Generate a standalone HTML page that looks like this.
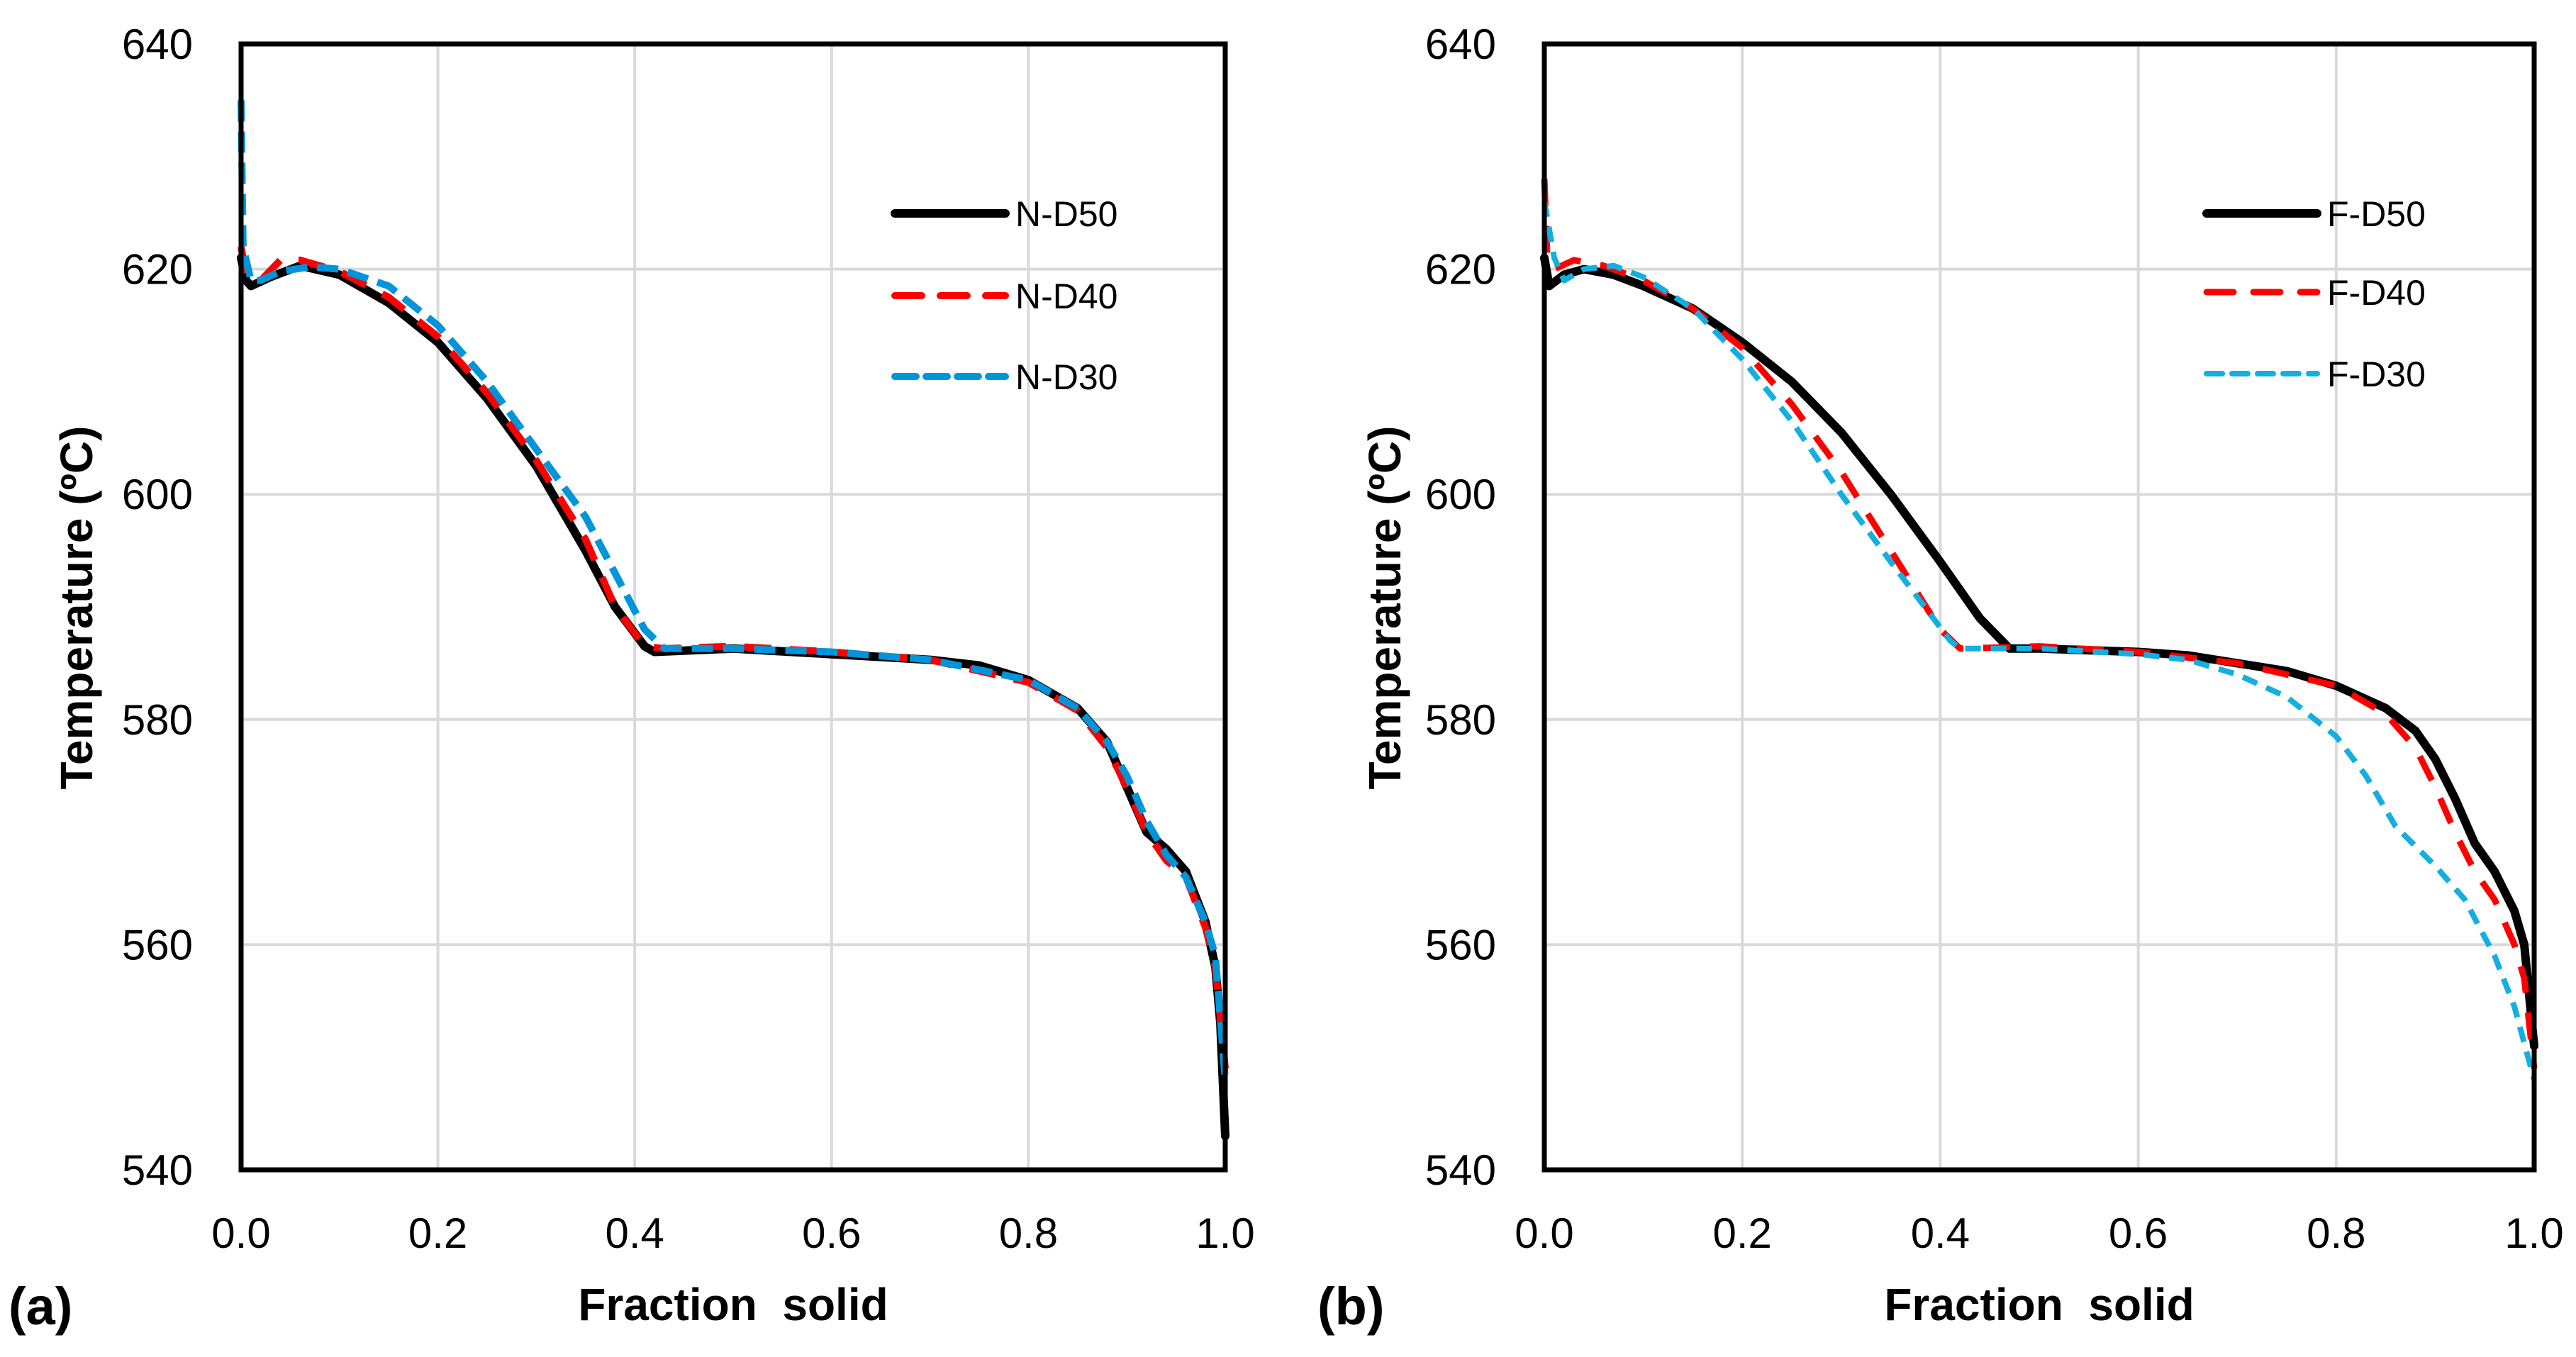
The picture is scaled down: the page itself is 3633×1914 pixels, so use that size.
<!DOCTYPE html>
<html><head><meta charset="utf-8">
<style>
html,body{margin:0;padding:0;background:#fff;}
svg{display:block;}
text{font-family:"Liberation Sans",Arial,sans-serif;}
</style></head>
<body>
<svg id="fig" width="3633" height="1914" viewBox="0 0 3633 1914" xmlns="http://www.w3.org/2000/svg"></svg>
<script>
const xTicks = [0, 0.2, 0.4, 0.6, 0.8, 1.0];
const xTickLabels = ["0.0","0.2","0.4","0.6","0.8","1.0"];
const yTicks = [540, 560, 580, 600, 620, 640];
const yTickLabels = ["540","560","580","600","620","640"];

const nD50x = [0,0.005,0.01,0.03,0.06,0.1,0.15,0.2,0.25,0.3,0.35,0.38,0.41,0.42,0.5,0.6,0.7,0.75,0.8,0.85,0.88,0.9,0.92,0.94,0.96,0.98,0.99,0.995,1.0];
const nD50y = [621,619,618.5,619.3,620.3,619.5,617,613.5,608.5,602.5,595,590,586.5,586,586.3,585.8,585.3,584.8,583.5,581,578,574,570,568.5,566.5,562,558,553,543];
const nD40x = [0,0.005,0.02,0.04,0.06,0.1,0.15,0.2,0.25,0.3,0.35,0.38,0.41,0.43,0.5,0.6,0.7,0.8,0.85,0.88,0.9,0.92,0.94,0.96,0.98,0.99,1.0];
const nD40y = [622,619.5,619,620.8,620.8,619.8,617.5,614,609,603,596,590,586.5,586.3,586.5,586,585.3,583.3,580.8,577.5,574,570,567.5,566,561.5,558,549];
const nD30x = [0,0.002,0.01,0.02,0.04,0.07,0.1,0.15,0.2,0.25,0.3,0.35,0.38,0.41,0.43,0.5,0.6,0.7,0.8,0.85,0.88,0.9,0.92,0.94,0.96,0.98,0.99,1.0];
const nD30y = [635,622,619,619,619.8,620.2,620,618.5,615,610,604,598,593,588,586.3,586.3,586,585.3,583.5,581,578,575,571,568,566,562,559,548];

const fD50x = [0,0.005,0.02,0.04,0.07,0.1,0.15,0.2,0.25,0.3,0.35,0.4,0.44,0.47,0.5,0.6,0.65,0.7,0.75,0.8,0.85,0.88,0.9,0.92,0.94,0.96,0.98,0.99,1.0];
const fD50y = [621,618.5,619.5,620,619.5,618.5,616.5,613.5,610,605.5,600,594,589,586.3,586.3,586,585.7,585,584.3,583,581,579,576.5,573,569,566.5,563,560,551];
const fD40x = [0,0.003,0.01,0.03,0.06,0.1,0.15,0.2,0.25,0.3,0.35,0.4,0.42,0.5,0.6,0.7,0.8,0.85,0.88,0.9,0.92,0.94,0.96,0.98,0.99,1.0];
const fD40y = [628,621,620,620.8,620.3,619,616.5,613,608,602,595,588,586.3,586.5,586,585,583,580.5,577.5,574,570,566.5,564,560,557,549];
const fD30x = [0,0.01,0.02,0.04,0.07,0.1,0.15,0.2,0.25,0.3,0.35,0.38,0.41,0.42,0.5,0.6,0.65,0.7,0.75,0.8,0.83,0.86,0.9,0.93,0.96,0.98,1.0];
const fD30y = [626,621,619,620,620.3,619.3,616.5,612,606.5,600,594,590.5,587,586.3,586.3,585.8,585.3,584,582,578.5,575,570.5,567,564,559,554.5,548];

const NS = "http://www.w3.org/2000/svg";
const svg = document.getElementById('fig');
function mk(tag, attrs, parent){
  const e = document.createElementNS(NS, tag);
  for (const k in attrs) e.setAttribute(k, attrs[k]);
  (parent||svg).appendChild(e);
  return e;
}

function panel(cfg){
  const g = mk('g', {});
  
  
  const L=cfg.left, R=cfg.right, T=62, B=1650;
  const sx = v => L + (v-0)/(1-0)*(R-L);
  const sy = v => B - (v-540)/(640-540)*(B-T);
  xTicks.forEach((t,i)=>{
    if(i===0||i===xTicks.length-1) return;
    const l = mk('line',{x1:sx(t),x2:sx(t),y1:T,y2:B,stroke:'#d9d9d9','stroke-width':4},g);
    
    
  });
  yTicks.forEach((t,i)=>{
    if(i===0||i===yTicks.length-1) return;
    const l = mk('line',{x1:L,x2:R,y1:sy(t),y2:sy(t),stroke:'#d9d9d9','stroke-width':4},g);
    
    
  });
  xTicks.forEach((t,i)=>{
    const tx = mk('text',{x:sx(t),y:1760,'font-size':60,'text-anchor':'middle',fill:'#000'},g);
    tx.textContent = xTickLabels[i];
    
    
  });
  yTicks.forEach((t,i)=>{
    const tx = mk('text',{x:L-68,y:sy(t)+21,'font-size':60,'text-anchor':'end',fill:'#000'},g);
    tx.textContent = yTickLabels[i];
    
    
  });
  cfg.series.forEach(s=>{
    const pts = s.x.map((v,i)=>sx(v).toFixed(1)+','+sy(s.y[i]).toFixed(1)).join(' ');
    const p = mk('polyline',{points:pts,fill:'none',stroke:s.color,'stroke-width':s.w,'stroke-dasharray':s.dash||'none','stroke-linejoin':'round','stroke-linecap':s.dash?'butt':'round'},g);
    
    
  });
  const fr = mk('rect',{x:L,y:T,width:R-L,height:B-T,fill:'none',stroke:'#000','stroke-width':7},g);
  
  
  cfg.series.forEach((s,i)=>{
    const ly = cfg.legY[i];
    const ll = mk('line',{x1:cfg.legX1,x2:cfg.legX2,y1:ly,y2:ly,stroke:s.color,'stroke-width':s.w,'stroke-dasharray':s.dash||'none','stroke-linecap':'round'},g);
    
    
    const lt = mk('text',{x:cfg.legX2+14,y:ly+18,'font-size':50,fill:'#000'},g);
    lt.textContent = s.label;
    
    
  });
  const xt = mk('text',{x:(L+R)/2,y:1862,'font-size':64,'font-weight':'bold','text-anchor':'middle',fill:'#000'},g);
  xt.textContent = 'Fraction\u00a0\u00a0solid';
  
  
  const yt = mk('text',{x:0,y:0,'font-size':64,'font-weight':'bold','text-anchor':'middle',fill:'#000',transform:'translate('+(cfg.ytX)+',857) rotate(-90)'},g);
  yt.textContent = 'Temperature (\u00baC)';
  
  
  const pl = mk('text',{x:cfg.lblX,y:1868,'font-size':74,'font-weight':'bold',fill:'#000'},g);
  pl.textContent = cfg.lbl;
  
  
}

panel({name:'panel-a',left:340,right:1728,ytX:130,lblX:12,lbl:'(a)',
  legX1:1262,legX2:1418,legY:[301,417,531],
  series:[
    {label:'N-D50',x:nD50x,y:nD50y,color:'#000',w:12},
    {label:'N-D40',x:nD40x,y:nD40y,color:'#ff0000',w:10,dash:'38 26'},
    {label:'N-D30',x:nD30x,y:nD30y,color:'#0095d9',w:10,dash:'30 14'}
  ]});
panel({name:'panel-b',left:2178,right:3574,ytX:1975,lblX:1858,lbl:'(b)',
  legX1:3112,legX2:3268,legY:[301,412,527],
  series:[
    {label:'F-D50',x:fD50x,y:fD50y,color:'#000',w:12},
    {label:'F-D40',x:fD40x,y:fD40y,color:'#ff0000',w:9,dash:'38 28'},
    {label:'F-D30',x:fD30x,y:fD30y,color:'#14aee0',w:8,dash:'22 14'}
  ]});
</script>
</body></html>
